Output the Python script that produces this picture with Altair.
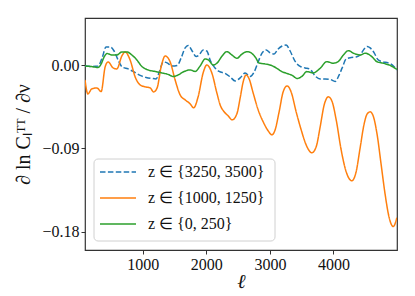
import altair as alt
import pandas as pd

series_labels = ["z ∈ {3250, 3500}", "z ∈ {1000, 1250}", "z ∈ {0, 250}"]
series_colors = ["#1f77b4", "#ff7f0e", "#2ca02c"]
series_dash = [[5.5, 2.4], [1, 0], [1, 0]]

ell_blue = [90, 202, 296, 359, 422, 485, 548, 611, 674, 769, 863, 958, 1052, 1146, 1209,
            1264, 1320, 1382, 1461, 1540, 1603, 1666, 1713, 1776, 1839, 1886, 1949, 2007,
            2059, 2122, 2201, 2295, 2374, 2453, 2532, 2610, 2689, 2752, 2815, 2878, 2941,
            3004, 3067, 3130, 3193, 3256, 3318, 3397, 3476, 3555, 3633, 3712, 3791, 3869,
            3948, 4027, 4090, 4137, 4200, 4279, 4357, 4420, 4483, 4531, 4578, 4641, 4704,
            4782, 4861, 4924, 4998]
val_blue = [-0.0009, -0.0014, -0.0009, 0.0078, 0.0197, 0.0197, 0.0153, 0.0056, -0.0019,
            -0.0041, -0.0074, -0.0111, -0.0133, -0.0144, -0.0149, -0.0063, 0.0035, 0.0024,
            -0.0009, -0.0003, 0.0078, 0.0186, 0.0213, 0.0153, 0.0094, 0.0110, 0.0164, 0.0153,
            0.0056, -0.0019, -0.0068, -0.0090, -0.0127, -0.0171, -0.0138, -0.0084, -0.0122,
            -0.0074, 0.0035, 0.0132, 0.0164, 0.0132, 0.0121, 0.0175, 0.0207, 0.0218, 0.0153,
            0.0040, -0.0014, -0.0030, -0.0046, -0.0117, -0.0149, -0.0149, -0.0154, -0.0176,
            -0.0106, -0.0030, 0.0067, 0.0083, 0.0089, 0.0110, 0.0175, 0.0202, 0.0186, 0.0132,
            0.0056, 0.0035, 0.0024, 0.0002, -0.0052]

ell_orange = [90, 135, 197, 276, 344, 407, 454, 532, 591, 670, 721, 800, 879, 958, 1036,
              1115, 1170, 1225, 1288, 1351, 1430, 1508, 1587, 1666, 1745, 1800, 1870, 1949,
              2007, 2086, 2165, 2217, 2280, 2343, 2406, 2480, 2532, 2579, 2626, 2673, 2736,
              2815, 2894, 2972, 3030, 3082, 3145, 3208, 3271, 3334, 3413, 3492, 3570, 3660,
              3728, 3791, 3854, 3921, 3980, 4043, 4121, 4200, 4290, 4357, 4420, 4483, 4531,
              4578, 4625, 4688, 4751, 4814, 4877, 4940, 4998]
val_orange = [-0.0160, -0.0311, -0.0257, -0.0246, -0.0286, -0.0019, 0.0035, -0.0030, -0.0041,
              0.0099, 0.0143, 0.0056, -0.0127, -0.0214, -0.0235, -0.0246, -0.0290, -0.0246,
              -0.0019, 0.0099, 0.0035, -0.0160, -0.0322, -0.0376, -0.0419, -0.0462, -0.0343,
              -0.0084, 0.0002, -0.0084, -0.0300, -0.0430, -0.0505, -0.0549, -0.0592, -0.0527,
              -0.0354, -0.0181, -0.0106, -0.0149, -0.0300, -0.0484, -0.0613, -0.0710, -0.0754,
              -0.0700, -0.0505, -0.0290, -0.0225, -0.0290, -0.0505, -0.0700, -0.0862, -0.0948,
              -0.0883, -0.0667, -0.0430, -0.0343, -0.0397, -0.0592, -0.0916, -0.1153, -0.1251,
              -0.1153, -0.0894, -0.0635, -0.0527, -0.0505, -0.0549, -0.0754, -0.1078, -0.1402,
              -0.1650, -0.1747, -0.1650]

ell_green = [90, 197, 296, 344, 391, 438, 512, 591, 670, 748, 827, 906, 984, 1083, 1193,
             1299, 1398, 1477, 1556, 1634, 1745, 1823, 1902, 1981, 2033, 2107, 2170, 2248,
             2322, 2401, 2480, 2563, 2642, 2705, 2768, 2831, 2925, 3004, 3109, 3188, 3271,
             3350, 3429, 3503, 3581, 3681, 3791, 3896, 3995, 4074, 4157, 4236, 4315, 4420,
             4499, 4604, 4683, 4782, 4892, 4998]
val_green = [-0.0009, -0.0016, -0.0025, 0.0013, 0.0089, 0.0126, 0.0110, 0.0110, 0.0143, 0.0143,
             0.0110, 0.0056, -0.0014, -0.0052, -0.0068, -0.0084, -0.0100, -0.0122, -0.0106,
             -0.0074, -0.0052, -0.0068, -0.0009, 0.0067, 0.0056, 0.0002, 0.0024, 0.0099,
             0.0146, 0.0110, 0.0075, 0.0121, 0.0146, 0.0132, 0.0089, 0.0024, 0.0013, 0.0002,
             -0.0034, -0.0070, -0.0090, -0.0111, -0.0144, -0.0122, -0.0070, -0.0084, -0.0034,
             0.0038, 0.0021, 0.0038, 0.0110, 0.0157, 0.0129, 0.0110, 0.0129, 0.0092, 0.0038,
             0.0021, -0.0003, -0.0046]

x_ticks = [1000, 2000, 3000, 4000]
y_ticks = [-0.18, -0.09, 0.0]

frames = []
for lab, ells, vals in zip(series_labels,
                           [ell_blue, ell_orange, ell_green],
                           [val_blue, val_orange, val_green]):
    frames.append(pd.DataFrame({"ell": ells, "val": vals, "series": lab}))
df = pd.concat(frames, ignore_index=True)

legend_df = pd.DataFrame({"series": series_labels, "idx": list(range(len(series_labels)))})

FONT = "Liberation Serif"

color_scale = alt.Scale(domain=series_labels, range=series_colors)
dash_scale = alt.Scale(domain=series_labels, range=series_dash)
row_scale = alt.Scale(type="linear", domain=[0, 2], range=[154, 206], zero=False, nice=False)

lines = alt.Chart(df).mark_line(strokeWidth=1.5, interpolate="monotone", clip=True).encode(
    x=alt.X("ell:Q", scale=alt.Scale(domain=[90, 5000], nice=False, zero=False),
            axis=alt.Axis(values=x_ticks, format="d", title="ℓ", grid=False, domain=False,
                          titleFontSize=20, titleFontStyle="italic", titlePadding=-1)),
    y=alt.Y("val:Q", scale=alt.Scale(domain=[-0.2, 0.051], nice=False, zero=False),
            axis=alt.Axis(values=y_ticks, format=".2f",
                          labelExpr="replace(datum.label, '-', '\u2212')",
                          title="∂ ln Cₗᵀᵀ / ∂ν", grid=False, domain=False,
                          titleFontSize=20, titlePadding=8)),
    color=alt.Color("series:N", scale=color_scale, legend=None),
    strokeDash=alt.StrokeDash("series:N", scale=dash_scale, legend=None),
    order=alt.Order("ell:Q"),
)

legend_box = alt.Chart(legend_df).mark_rect(
    fill="white", fillOpacity=0.8, stroke="#d0d0d0", strokeWidth=1, cornerRadius=4
).encode(
    x=alt.value(9), x2=alt.value(190), y=alt.value(141), y2=alt.value(223)
).transform_filter("datum.idx == 0")

legend_lines = alt.Chart(legend_df).mark_rule(strokeWidth=1.5).encode(
    x=alt.value(15), x2=alt.value(51),
    y=alt.Y("idx:Q", scale=row_scale, axis=None),
    color=alt.Color("series:N", scale=color_scale, legend=None),
    strokeDash=alt.StrokeDash("series:N", scale=dash_scale, legend=None),
)

legend_text = alt.Chart(legend_df).mark_text(
    align="left", baseline="middle", font=FONT, fontSize=16, color="#111"
).encode(
    x=alt.value(63),
    y=alt.Y("idx:Q", scale=row_scale, axis=None),
    text="series:N",
)

legend_layer = alt.layer(legend_box, legend_lines, legend_text)

chart = alt.layer(lines, legend_layer).resolve_scale(y="independent").properties(
    width=312, height=232,
    autosize=alt.AutoSizeParams(type="none"),
    padding={"left": 77, "top": 10, "right": 10, "bottom": 40},
).configure_view(
    stroke="#333", strokeWidth=1.2
).configure_axis(
    labelFont=FONT, titleFont=FONT, labelFontSize=16, labelColor="#111", titleColor="#111",
    tickColor="#333", tickSize=4, labelPadding=2, titleFontWeight="normal"
)

chart.save("out.html", embed_options={"renderer": "svg", "actions": False})
